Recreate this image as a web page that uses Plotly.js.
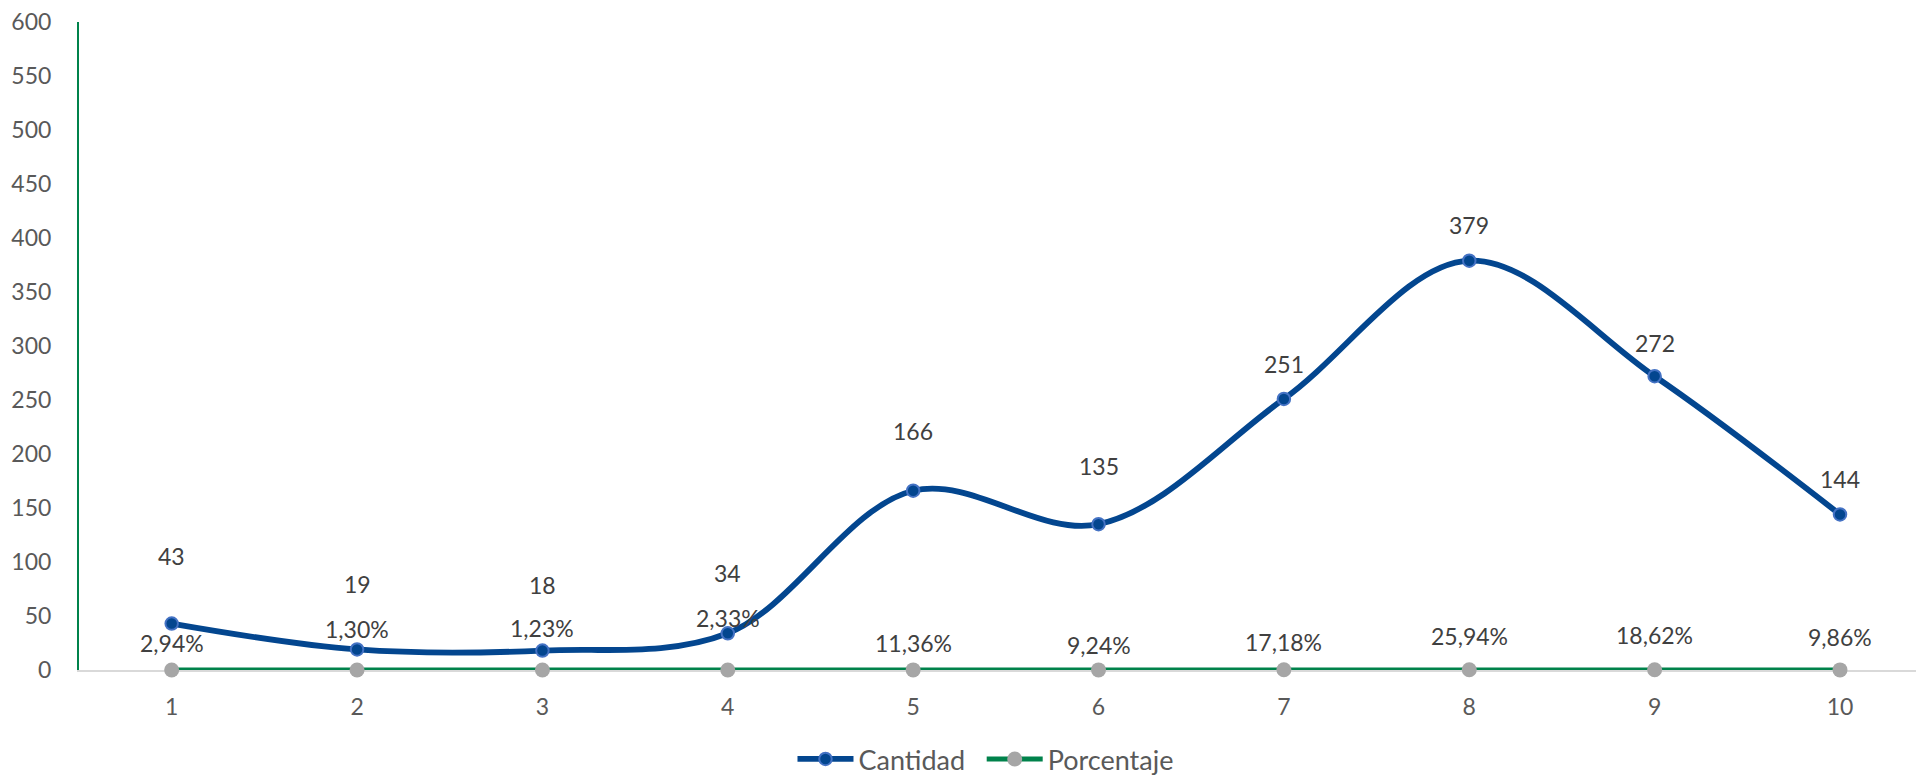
<!DOCTYPE html>
<html>
<head>
<meta charset="utf-8">
<script src="https://cdn.plot.ly/plotly-3.0.1.min.js"></script>
<style>
  html, body { margin: 0; padding: 0; background: #ffffff; }
  #chart { width: 1916px; height: 775px; }
</style>
</head>
<body>
<div id="chart"></div>
<script>
// ---- data ----
const categories = [1, 2, 3, 4, 5, 6, 7, 8, 9, 10];
const cantidad = [43, 19, 18, 34, 166, 135, 251, 379, 272, 144];
const porcentaje = [2.94, 1.30, 1.23, 2.33, 11.36, 9.24, 17.18, 25.94, 18.62, 9.86];
const seriesNames = ["Cantidad", "Porcentaje"];

// ---- label placement (px above the point, layout only) ----
const cantLabelLift = [68, 65, 66, 60, 60, 58, 35, 36, 33, 35];
const pctLabelLift = [27, 41, 42, 52, 27, 25, 28, 34, 35, 33];

const FONT = "Lato, 'Open Sans', sans-serif";
const fmtPct = v => v.toFixed(2).replace('.', ',') + '%';

const traces = [
  {
    x: categories,
    y: cantidad,
    name: seriesNames[0],
    legend: 'legend',
    type: 'scatter',
    mode: 'lines+markers',
    cliponaxis: false,
    line: { color: '#03468F', width: 5.8, shape: 'spline', smoothing: 1 },
    marker: { color: '#03468F', size: 12.5, line: { color: '#4472C4', width: 2 } },
    hoverinfo: 'x+y'
  },
  {
    x: categories,
    y: porcentaje.map(v => v / 100),
    name: seriesNames[1],
    legend: 'legend2',
    type: 'scatter',
    mode: 'lines+markers',
    cliponaxis: false,
    line: { color: '#00824B', width: 5 },
    marker: { color: '#A6A6A6', size: 15 },
    hoverinfo: 'x+y'
  }
];

const annotations = [];
categories.forEach((c, i) => {
  annotations.push({
    x: c, y: cantidad[i], xref: 'x', yref: 'y',
    text: String(cantidad[i]), showarrow: false,
    yshift: cantLabelLift[i], yanchor: 'middle',
    font: { family: FONT, size: 23, color: '#404040' }
  });
  annotations.push({
    x: c, y: porcentaje[i] / 100, xref: 'x', yref: 'y',
    text: fmtPct(porcentaje[i]), showarrow: false,
    yshift: pctLabelLift[i], yanchor: 'middle',
    font: { family: FONT, size: 23, color: '#404040' }
  });
});

const legendBase = {
  orientation: 'h',
  xanchor: 'left',
  y: -0.138, yanchor: 'middle',
  font: { family: FONT, size: 27, color: '#595959' },
  itemwidth: 56,
  bgcolor: 'rgba(0,0,0,0)'
};

const layout = {
  width: 1916,
  height: 775,
  margin: { l: 79, r: 0, t: 22, b: 105, autoexpand: false },
  paper_bgcolor: '#ffffff',
  plot_bgcolor: '#ffffff',
  font: { family: FONT, size: 23, color: '#595959' },
  showlegend: true,
  legend: Object.assign({}, legendBase, { x: 0.3884 }),
  legend2: Object.assign({}, legendBase, { x: 0.4914 }),
  xaxis: {
    range: [0.5, 10.41],
    tickmode: 'array',
    tickvals: categories,
    ticktext: categories.map(String),
    showgrid: false,
    zeroline: false,
    showline: true,
    layer: 'below traces',
    linecolor: '#D9D9D9',
    linewidth: 2,
    ticks: '',
    automargin: false,
    ticklabelstandoff: 15,
    tickfont: { family: FONT, size: 23, color: '#595959' },
    fixedrange: true
  },
  yaxis: {
    range: [0, 600],
    tickmode: 'linear',
    tick0: 0,
    dtick: 50,
    showgrid: false,
    zeroline: false,
    showline: true,
    layer: 'below traces',
    linecolor: '#00824B',
    linewidth: 2,
    ticks: '',
    automargin: false,
    ticklabelstandoff: 21,
    tickfont: { family: FONT, size: 23, color: '#595959' },
    fixedrange: true
  },
  annotations: annotations
};

Plotly.newPlot('chart', traces, layout, { displayModeBar: false, staticPlot: true });
</script>
</body>
</html>
